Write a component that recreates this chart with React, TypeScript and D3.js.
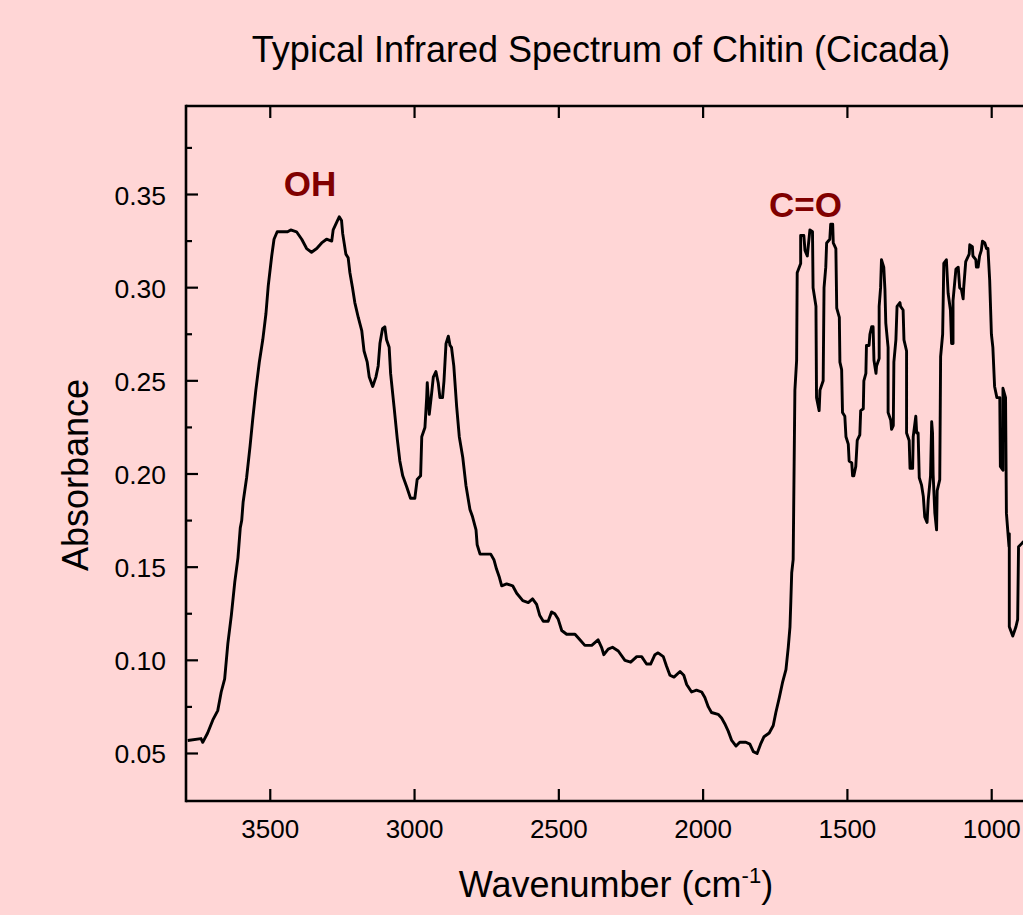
import * as React from 'react'
import * as d3 from 'd3'

// spectrum: [wavenumber cm-1, absorbance]
const ohBand: [number, number][] = [
    [3786, 0.057], [3740, 0.058], [3734, 0.056], [3717, 0.061], [3699, 0.068], [3682, 0.073],
    [3670, 0.083], [3658, 0.090], [3647, 0.109], [3635, 0.124], [3623, 0.142], [3612, 0.155],
    [3604, 0.171], [3599, 0.175], [3594, 0.185], [3582, 0.198], [3570, 0.215], [3561, 0.229],
    [3550, 0.245], [3538, 0.260], [3526, 0.272], [3515, 0.286], [3507, 0.301], [3495, 0.317],
    [3487, 0.326], [3476, 0.330], [3440, 0.330], [3429, 0.331], [3409, 0.330], [3391, 0.326],
    [3374, 0.321], [3357, 0.319], [3339, 0.321], [3322, 0.324], [3305, 0.326], [3287, 0.325],
    [3282, 0.331], [3270, 0.335], [3261, 0.338], [3253, 0.336], [3249, 0.329], [3238, 0.318],
    [3230, 0.316], [3224, 0.308], [3215, 0.300], [3207, 0.292], [3195, 0.284], [3183, 0.277],
    [3175, 0.266], [3164, 0.260], [3157, 0.252], [3145, 0.247], [3134, 0.252], [3126, 0.258],
    [3120, 0.270], [3111, 0.278], [3103, 0.279], [3097, 0.272], [3088, 0.268], [3083, 0.254],
    [3071, 0.236], [3060, 0.219], [3051, 0.207], [3041, 0.199], [3027, 0.193], [3014, 0.187],
    [2999, 0.187], [2991, 0.197], [2979, 0.199], [2975, 0.220], [2964, 0.225], [2958, 0.241],
    [2956, 0.249], [2949, 0.232], [2941, 0.243], [2935, 0.252], [2926, 0.255], [2918, 0.249],
    [2912, 0.241], [2903, 0.241], [2898, 0.250], [2891, 0.270], [2883, 0.274], [2877, 0.269],
    [2872, 0.268], [2864, 0.258], [2854, 0.236], [2845, 0.220], [2833, 0.209], [2822, 0.194],
    [2808, 0.181], [2799, 0.177],
]

const midRange: [number, number][] = [
    [2787, 0.170], [2783, 0.162], [2773, 0.157], [2736, 0.157], [2725, 0.154], [2716, 0.149],
    [2707, 0.145], [2698, 0.140], [2681, 0.141], [2660, 0.140], [2646, 0.136], [2625, 0.132],
    [2606, 0.131], [2591, 0.133], [2577, 0.130], [2566, 0.124], [2554, 0.121], [2537, 0.121],
    [2525, 0.126], [2514, 0.125], [2502, 0.122], [2490, 0.116], [2473, 0.114], [2444, 0.114],
    [2427, 0.111], [2410, 0.108], [2386, 0.108], [2364, 0.111], [2352, 0.107], [2344, 0.103],
    [2329, 0.106], [2314, 0.107], [2294, 0.105], [2271, 0.100], [2251, 0.099], [2230, 0.102],
    [2213, 0.102], [2196, 0.098], [2182, 0.098], [2167, 0.103], [2156, 0.104], [2138, 0.102],
    [2127, 0.097], [2115, 0.092], [2101, 0.091], [2080, 0.094], [2067, 0.092], [2057, 0.087],
    [2040, 0.083], [2023, 0.084], [2005, 0.083], [1994, 0.080], [1982, 0.075], [1971, 0.072],
    [1948, 0.071], [1936, 0.069], [1925, 0.066], [1913, 0.062], [1901, 0.057], [1886, 0.054],
    [1873, 0.056], [1852, 0.056], [1838, 0.055], [1826, 0.051], [1813, 0.050], [1801, 0.055],
    [1789, 0.059], [1771, 0.061], [1757, 0.065], [1748, 0.072], [1736, 0.080], [1725, 0.088],
    [1713, 0.095], [1705, 0.107], [1699, 0.118], [1696, 0.132], [1693, 0.147], [1688, 0.154],
]

const fingerprint: [number, number][] = [
    [1682, 0.245], [1676, 0.261], [1674, 0.308], [1662, 0.313], [1662, 0.328], [1651, 0.328],
    [1647, 0.320], [1639, 0.317], [1630, 0.331], [1621, 0.330], [1619, 0.300], [1609, 0.290],
    [1607, 0.241], [1598, 0.234], [1595, 0.245], [1584, 0.250], [1581, 0.300], [1575, 0.311],
    [1572, 0.324], [1561, 0.326], [1558, 0.334], [1551, 0.334], [1549, 0.324], [1540, 0.321],
    [1537, 0.289], [1528, 0.284], [1526, 0.260], [1520, 0.256], [1517, 0.233], [1509, 0.231],
    [1505, 0.220], [1497, 0.216], [1494, 0.207], [1485, 0.206], [1482, 0.199], [1478, 0.199],
    [1471, 0.204], [1466, 0.218], [1457, 0.221], [1454, 0.234], [1445, 0.235], [1443, 0.250],
    [1436, 0.254], [1434, 0.269], [1425, 0.269], [1422, 0.275], [1416, 0.279], [1411, 0.279],
    [1408, 0.261], [1401, 0.254], [1399, 0.258], [1390, 0.262], [1390, 0.290], [1385, 0.300],
    [1382, 0.315], [1374, 0.311], [1370, 0.299], [1367, 0.281], [1359, 0.268], [1359, 0.233],
    [1350, 0.229], [1347, 0.224], [1341, 0.226], [1339, 0.260], [1332, 0.272], [1328, 0.290],
    [1318, 0.292], [1316, 0.290], [1307, 0.288], [1304, 0.272], [1295, 0.266], [1295, 0.222],
    [1286, 0.218], [1283, 0.203], [1274, 0.203], [1272, 0.220], [1263, 0.231], [1260, 0.222],
    [1255, 0.222], [1251, 0.198], [1243, 0.194], [1237, 0.188], [1232, 0.177], [1224, 0.174],
    [1220, 0.186], [1212, 0.199], [1208, 0.228], [1205, 0.222], [1203, 0.200], [1197, 0.179],
    [1191, 0.170], [1189, 0.191], [1180, 0.197], [1177, 0.263], [1170, 0.275], [1166, 0.313],
    [1157, 0.315], [1151, 0.297], [1143, 0.288], [1139, 0.270], [1134, 0.270], [1134, 0.293],
    [1124, 0.310], [1116, 0.311], [1111, 0.300], [1105, 0.299], [1099, 0.294], [1097, 0.300],
    [1090, 0.314], [1078, 0.318], [1076, 0.323], [1067, 0.322], [1065, 0.317], [1055, 0.315],
    [1053, 0.311], [1047, 0.311], [1042, 0.317], [1036, 0.320], [1032, 0.325], [1024, 0.324],
    [1018, 0.321], [1013, 0.321], [1007, 0.304], [1001, 0.275], [996, 0.268], [990, 0.247],
    [982, 0.241], [972, 0.241], [970, 0.204], [961, 0.202], [961, 0.246], [952, 0.241],
    [949, 0.179], [940, 0.161], [939, 0.168], [939, 0.118], [927, 0.113], [916, 0.118],
    [910, 0.122], [907, 0.161], [894, 0.163], [880, 0.165],
]

const xTicks = [3500, 3000, 2500, 2000, 1500, 1000]
const yTicks = [0.05, 0.10, 0.15, 0.20, 0.25, 0.30, 0.35]
const yMinorTicks = [0.075, 0.125, 0.175, 0.225, 0.275, 0.325, 0.375]

const annotations = [
    { label: 'OH', wn: 3362, value: 0.349 },
    { label: 'C=O', wn: 1645, value: 0.338 },
]

export default function App() {
    const W = 1023
    const H = 915
    const BG = '#FFD6D6'
    const FONT = '"Liberation Sans", Arial, Helvetica, sans-serif'
    const MAJOR = 12
    const MINOR = 6

    const xScale = d3.scaleLinear().domain([3792, 1000]).range([186, 991.7])
    const yScale = d3.scaleLinear().domain([0.0245, 0.3975]).range([801, 106])

    const left = xScale(3792)
    const right = xScale(400)
    const top = yScale(0.3975)
    const bottom = yScale(0.0245)

    const spectrum = [...ohBand, ...midRange, ...fingerprint]
    const line = d3.line<[number, number]>()
        .x(d => xScale(d[0]))
        .y(d => yScale(d[1]))

    return <svg width={W} height={H} viewBox={`0 0 ${W} ${H}`}
        style={{ position: 'absolute', left: 0, top: 0, display: 'block' }}
        fontFamily={FONT}>
        <rect x={0} y={0} width={W} height={H} fill={BG} />

        <text x={601} y={62} textAnchor="middle" fontSize={36}>Typical Infrared Spectrum of Chitin (Cicada)</text>

        <path d={line(spectrum) || ''} fill="none" stroke="#000" strokeWidth={2.9} strokeLinejoin="round" />

        {/* frame */}
        <line x1={left} x2={left} y1={top - 1.3} y2={bottom + 1.3} stroke="#000" strokeWidth={2.6} />
        <line x1={left} x2={right} y1={bottom} y2={bottom} stroke="#000" strokeWidth={2.6} />
        <line x1={left} x2={right} y1={top} y2={top} stroke="#000" strokeWidth={2.6} />

        {
            xTicks.map(t =>
                <g key={t}>
                    <line x1={xScale(t)} x2={xScale(t)} y1={bottom} y2={bottom - MAJOR} stroke="#000" strokeWidth={2.2} />
                    <line x1={xScale(t)} x2={xScale(t)} y1={top} y2={top + MAJOR} stroke="#000" strokeWidth={2.2} />
                    <text x={xScale(t)} y={838} textAnchor="middle" fontSize={26}>{t}</text>
                </g>
            )
        }
        {
            yTicks.map(t =>
                <g key={t}>
                    <line x1={left} x2={left + MAJOR} y1={yScale(t)} y2={yScale(t)} stroke="#000" strokeWidth={2.2} />
                    <text x={166} y={yScale(t) + 10} textAnchor="end" fontSize={26.5}>{t.toFixed(2)}</text>
                </g>
            )
        }
        {
            yMinorTicks.map(t =>
                <line key={t} x1={left} x2={left + MINOR} y1={yScale(t)} y2={yScale(t)} stroke="#000" strokeWidth={2.2} />
            )
        }

        <text transform="translate(88 475) rotate(-90)" textAnchor="middle" fontSize={36}>Absorbance</text>
        <text x={616} y={897} textAnchor="middle" fontSize={36}>
            Wavenumber (cm<tspan fontSize={22} dy={-14}>-1</tspan><tspan dy={14}>)</tspan>
        </text>

        {
            annotations.map(a =>
                <text key={a.label} x={xScale(a.wn)} y={yScale(a.value)} textAnchor="middle"
                    fontSize={35} fontWeight="bold" fill="#800000">{a.label}</text>
            )
        }
    </svg>
}
